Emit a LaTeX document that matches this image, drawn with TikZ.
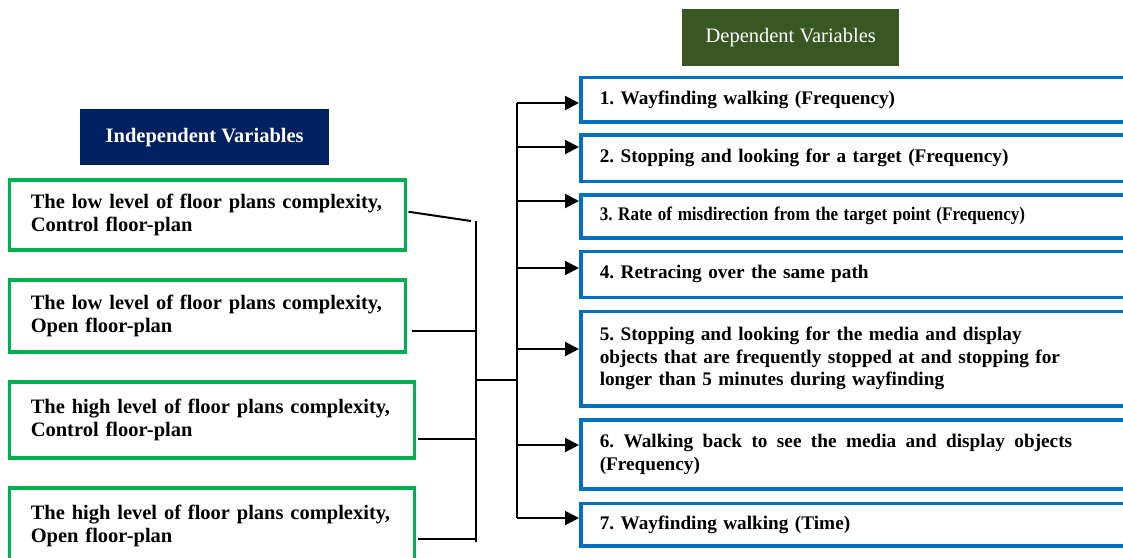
\documentclass[tikz,border=0pt]{standalone}
\usepackage{fontspec}
\setmainfont{Liberation Serif}
\usetikzlibrary{arrows.meta}
\definecolor{gline}{HTML}{00B050}
\definecolor{bline}{HTML}{0070C0}
\definecolor{navyfill}{HTML}{002060}
\definecolor{olivefill}{HTML}{385723}
\newcommand\jsp{\hspace{0.25em plus 1fil}}
\frenchspacing
\begin{document}
\begin{tikzpicture}[x=1pt,y=-1pt,
  ivbox/.style={draw=gline,line width=3.5pt,rectangle,anchor=north west,inner xsep=21.5pt,inner ysep=0pt,
    align=left,font=\fontsize{20.5}{23}\selectfont\bfseries\frenchspacing},
  dvbox/.style={draw=bline,line width=3.5pt,rectangle,anchor=north west,inner xsep=19pt,inner ysep=0pt,
    minimum width=560pt,text width=522pt,align=left,font=\fontsize{19.25}{22.5}\selectfont\bfseries\frenchspacing},
  header/.style={rectangle,anchor=north west,inner sep=0pt,text=white,font=\fontsize{20.5}{23}\selectfont},
  ln/.style={line width=2pt,black},
  arr/.style={line width=2pt,black,-{Triangle[length=14pt,width=14pt]}}
]
\useasboundingbox (0,0) rectangle (1123,557);
\fill[white] (0,0) rectangle (1123,557);
\begin{scope}
\clip (0,0) rectangle (1123,557);
% headers
\node[header,fill=navyfill,minimum width=249pt,minimum height=56pt,font=\fontsize{20.5}{23}\selectfont\bfseries] (iv) at (80,109) {Independent Variables};
\node[header,fill=olivefill,minimum width=217pt,minimum height=57pt] (dv) at (682,9) {Dependent Variables};
% independent variable boxes
\node[ivbox,minimum width=396pt,minimum height=70pt,text width=353pt] (g1) at (7.5,178) {The low level of floor plans complexity,\\Control floor-plan};
\node[ivbox,minimum width=396pt,minimum height=72pt,text width=353pt] (g2) at (7.5,278) {The low level of floor plans complexity,\\Open floor-plan};
\node[ivbox,minimum width=405pt,minimum height=76pt,text width=362pt] (g3) at (7.5,380) {The high level of floor plans complexity,\\Control floor-plan};
\node[ivbox,minimum width=405pt,minimum height=76pt,text width=362pt] (g4) at (7.5,486) {The high level of floor plans complexity,\\Open floor-plan};
% dependent variable boxes
\node[dvbox,minimum height=44.5pt] (b1) at (579,75.5) {1. Wayfinding walking (Frequency)};
\node[dvbox,minimum height=46.5pt] (b2) at (579,133) {2. Stopping and looking for a target (Frequency)};
\node[dvbox,minimum height=43pt] (b3) at (579,193) {\scalebox{0.885}[1]{3. Rate of misdirection from the target point (Frequency)}};
\node[dvbox,minimum height=46pt] (b4) at (579,249.5) {4. Retracing over the same path};
\node[dvbox,minimum height=94.5pt] (b5) at (579,309.5) {5. Stopping and looking for the media and display\\objects that are frequently stopped at and stopping for\\longer than 5 minutes during wayfinding};
\node[dvbox,minimum height=69pt] (b6) at (579,418) {\makebox[477pt][l]{6.\jsp Walking\jsp back\jsp to\jsp see\jsp the\jsp media\jsp and\jsp display\jsp objects}\\(Frequency)};
\node[dvbox,minimum height=42.5pt] (b7) at (579,501.5) {7. Wayfinding walking (Time)};
% left bracket
\coordinate (l1) at (471,221);
\coordinate (ltop) at (476,221);
\coordinate (l2) at (476,331);
\coordinate (l3) at (476,439);
\coordinate (l4) at (476,539);
\coordinate (lbot) at (476,542);
\coordinate (jl) at (476,380);
\draw[ln] ([xshift=1.5pt,yshift=3pt]g1.east) -- (l1);
\draw[ln] (ltop) -- (lbot);
\draw[ln] ([xshift=4.5pt]g2.east |- l2) -- (l2);
\draw[ln] ([xshift=1.5pt]g3.east |- l3) -- (l3);
\draw[ln] ([xshift=1.5pt]g4.east |- l4) -- (l4);
% right trunk
\coordinate (r1) at (517,103);
\coordinate (r2) at (517,147);
\coordinate (r3) at (517,201);
\coordinate (r4) at (517,268);
\coordinate (r5) at (517,349);
\coordinate (r6) at (517,445);
\coordinate (r7) at (517,518);
\coordinate (jr) at (517,380);
\draw[ln] (jl) -- (jr);
\draw[ln] (r1) -- (r7);
\draw[arr] (r1) -- (r1 -| b1.west);
\draw[arr] (r2) -- (r2 -| b2.west);
\draw[arr] (r3) -- (r3 -| b3.west);
\draw[arr] (r4) -- (r4 -| b4.west);
\draw[arr] (r5) -- (r5 -| b5.west);
\draw[arr] (r6) -- (r6 -| b6.west);
\draw[arr] (r7) -- (r7 -| b7.west);
\end{scope}
\end{tikzpicture}
\end{document}
